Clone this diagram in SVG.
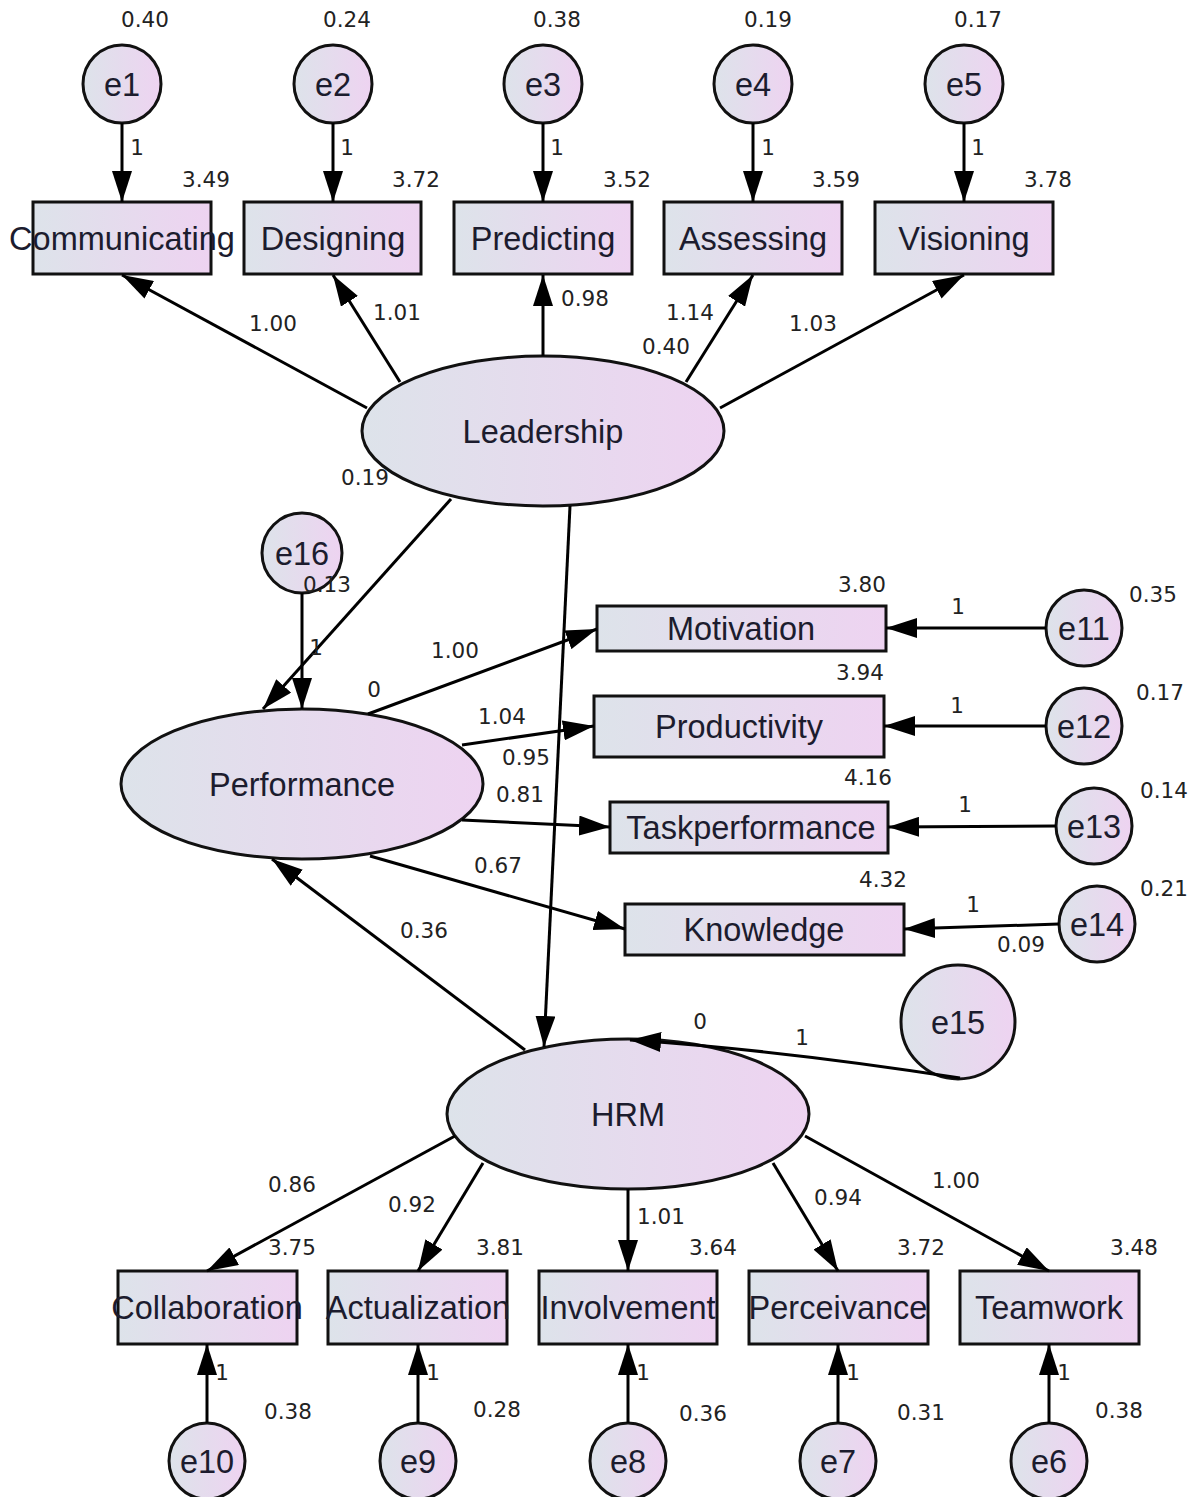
<svg xmlns="http://www.w3.org/2000/svg" width="1194" height="1497" viewBox="0 0 1194 1497">
<defs>
<linearGradient id="g" x1="0" y1="0" x2="1" y2="0">
<stop offset="0" stop-color="#dde3ea"/>
<stop offset="1" stop-color="#eed3f1"/>
</linearGradient>
<marker id="ah" markerUnits="userSpaceOnUse" markerWidth="32" markerHeight="20" refX="31" refY="10" orient="auto">
<path d="M0,0 L31,10 L0,20 z" fill="#000"/>
</marker>
</defs>
<style>
.n{fill:url(#g);stroke:#111;stroke-width:3}
.t{font-family:"Liberation Sans",Arial,sans-serif;font-size:32.5px;fill:#1c1c2e;text-anchor:middle}
.v{font-family:"DejaVu Sans",sans-serif;font-size:21.5px;fill:#222;text-anchor:middle}
.c{stroke:#000;stroke-width:3;fill:none;marker-end:url(#ah)}
</style>
<rect width="1194" height="1497" fill="#fff"/>

<g id="e1"><circle class="n" cx="122" cy="84" r="39"/><text class="t" x="122" y="96">e1</text><text class="v" x="145" y="27">0.40</text></g>
<g id="e2"><circle class="n" cx="333" cy="84" r="39"/><text class="t" x="333" y="96">e2</text><text class="v" x="347" y="27">0.24</text></g>
<g id="e3"><circle class="n" cx="543" cy="84" r="39"/><text class="t" x="543" y="96">e3</text><text class="v" x="557" y="27">0.38</text></g>
<g id="e4"><circle class="n" cx="753" cy="84" r="39"/><text class="t" x="753" y="96">e4</text><text class="v" x="768" y="27">0.19</text></g>
<g id="e5"><circle class="n" cx="964" cy="84" r="39"/><text class="t" x="964" y="96">e5</text><text class="v" x="978" y="27">0.17</text></g>

<g id="communicating"><rect class="n" x="33" y="202" width="178" height="72"/><text class="t" x="122" y="250">Communicating</text><text class="v" x="206" y="187">3.49</text></g>
<g id="designing"><rect class="n" x="244" y="202" width="177" height="72"/><text class="t" x="333" y="250">Designing</text><text class="v" x="416" y="187">3.72</text></g>
<g id="predicting"><rect class="n" x="454" y="202" width="178" height="72"/><text class="t" x="543" y="250">Predicting</text><text class="v" x="627" y="187">3.52</text></g>
<g id="assessing"><rect class="n" x="664" y="202" width="178" height="72"/><text class="t" x="753" y="250">Assessing</text><text class="v" x="836" y="187">3.59</text></g>
<g id="visioning"><rect class="n" x="875" y="202" width="178" height="72"/><text class="t" x="964" y="250">Visioning</text><text class="v" x="1048" y="187">3.78</text></g>

<g id="leadership"><ellipse class="n" cx="543" cy="431" rx="181" ry="75"/><text class="t" x="543" y="443">Leadership</text></g>

<g id="e16"><circle class="n" cx="302" cy="553" r="40"/><text class="t" x="302" y="565">e16</text><text class="v" x="327" y="592">0.13</text></g>

<g id="performance"><ellipse class="n" cx="302" cy="784" rx="181" ry="75"/><text class="t" x="302" y="796">Performance</text></g>

<g id="motivation"><rect class="n" x="597" y="606" width="289" height="45"/><text class="t" x="741" y="640">Motivation</text><text class="v" x="862" y="592">3.80</text></g>
<g id="productivity"><rect class="n" x="594" y="696" width="290" height="61"/><text class="t" x="739" y="738">Productivity</text><text class="v" x="860" y="680">3.94</text></g>
<g id="taskperformance"><rect class="n" x="610" y="802" width="278" height="51"/><text class="t" x="751" y="839">Taskperformance</text><text class="v" x="868" y="785">4.16</text></g>
<g id="knowledge"><rect class="n" x="625" y="904" width="279" height="51"/><text class="t" x="764" y="941">Knowledge</text><text class="v" x="883" y="887">4.32</text></g>

<g id="e11"><circle class="n" cx="1084" cy="628" r="38"/><text class="t" x="1084" y="640">e11</text><text class="v" x="1153" y="602">0.35</text></g>
<g id="e12"><circle class="n" cx="1084" cy="726" r="38"/><text class="t" x="1084" y="738">e12</text><text class="v" x="1160" y="700">0.17</text></g>
<g id="e13"><circle class="n" cx="1094" cy="826" r="38"/><text class="t" x="1094" y="838">e13</text><text class="v" x="1164" y="798">0.14</text></g>
<g id="e14"><circle class="n" cx="1097" cy="924" r="38"/><text class="t" x="1097" y="936">e14</text><text class="v" x="1164" y="896">0.21</text></g>

<g id="e15"><circle class="n" cx="958" cy="1022" r="57"/><text class="t" x="958" y="1034">e15</text></g>

<g id="hrm"><ellipse class="n" cx="628" cy="1114" rx="181" ry="75"/><text class="t" x="628" y="1126">HRM</text></g>

<g id="collaboration"><rect class="n" x="118" y="1271" width="179" height="73"/><text class="t" x="207" y="1319">Collaboration</text><text class="v" x="292" y="1255">3.75</text></g>
<g id="actualization"><rect class="n" x="328" y="1271" width="179" height="73"/><text class="t" x="418" y="1319">Actualization</text><text class="v" x="500" y="1255">3.81</text></g>
<g id="involvement"><rect class="n" x="539" y="1271" width="178" height="73"/><text class="t" x="628" y="1319">Involvement</text><text class="v" x="713" y="1255">3.64</text></g>
<g id="perceivance"><rect class="n" x="749" y="1271" width="179" height="73"/><text class="t" x="838" y="1319">Perceivance</text><text class="v" x="921" y="1255">3.72</text></g>
<g id="teamwork"><rect class="n" x="960" y="1271" width="179" height="73"/><text class="t" x="1049" y="1319">Teamwork</text><text class="v" x="1134" y="1255">3.48</text></g>

<g id="e10"><circle class="n" cx="207" cy="1461" r="38"/><text class="t" x="207" y="1473">e10</text><text class="v" x="288" y="1419">0.38</text></g>
<g id="e9"><circle class="n" cx="418" cy="1461" r="38"/><text class="t" x="418" y="1473">e9</text><text class="v" x="497" y="1417">0.28</text></g>
<g id="e8"><circle class="n" cx="628" cy="1461" r="38"/><text class="t" x="628" y="1473">e8</text><text class="v" x="703" y="1421">0.36</text></g>
<g id="e7"><circle class="n" cx="838" cy="1461" r="38"/><text class="t" x="838" y="1473">e7</text><text class="v" x="921" y="1420">0.31</text></g>
<g id="e6"><circle class="n" cx="1049" cy="1461" r="38"/><text class="t" x="1049" y="1473">e6</text><text class="v" x="1119" y="1418">0.38</text></g>

<g id="connectors">
<line class="c" x1="122" y1="123" x2="122" y2="202"/>
<line class="c" x1="333" y1="123" x2="333" y2="202"/>
<line class="c" x1="543" y1="123" x2="543" y2="202"/>
<line class="c" x1="753" y1="123" x2="753" y2="202"/>
<line class="c" x1="964" y1="123" x2="964" y2="202"/>
<line class="c" x1="367" y1="408" x2="122" y2="275"/>
<line class="c" x1="400" y1="382" x2="333" y2="275"/>
<line class="c" x1="543" y1="356" x2="543" y2="275"/>
<line class="c" x1="686" y1="382" x2="753" y2="275"/>
<line class="c" x1="720" y1="408" x2="964" y2="275"/>
<line class="c" x1="451" y1="499" x2="263" y2="709"/>
<line class="c" x1="302" y1="593" x2="302" y2="709"/>
<line class="c" x1="570" y1="506" x2="544" y2="1047"/>
<line class="c" x1="368" y1="714" x2="597" y2="629"/>
<line class="c" x1="462" y1="745" x2="594" y2="726"/>
<line class="c" x1="462" y1="820" x2="610" y2="827"/>
<line class="c" x1="370" y1="856" x2="625" y2="929"/>
<line class="c" x1="1046" y1="628" x2="886" y2="628"/>
<line class="c" x1="1046" y1="726" x2="884" y2="726"/>
<line class="c" x1="1056" y1="826" x2="888" y2="827"/>
<line class="c" x1="1059" y1="924" x2="904" y2="929"/>
<line class="c" x1="525" y1="1050" x2="272" y2="859"/>
<path class="c" d="M960,1078 Q780,1050 630,1040"/>
<line class="c" x1="455" y1="1136" x2="207" y2="1271"/>
<line class="c" x1="483" y1="1163" x2="418" y2="1271"/>
<line class="c" x1="628" y1="1189" x2="628" y2="1271"/>
<line class="c" x1="773" y1="1163" x2="838" y2="1271"/>
<line class="c" x1="805" y1="1136" x2="1049" y2="1271"/>
<line class="c" x1="207" y1="1423" x2="207" y2="1344"/>
<line class="c" x1="418" y1="1423" x2="418" y2="1344"/>
<line class="c" x1="628" y1="1423" x2="628" y2="1344"/>
<line class="c" x1="838" y1="1423" x2="838" y2="1344"/>
<line class="c" x1="1049" y1="1423" x2="1049" y2="1344"/>
</g>

<g id="edge-labels">
<text class="v" x="137" y="155">1</text>
<text class="v" x="347" y="155">1</text>
<text class="v" x="557" y="155">1</text>
<text class="v" x="768" y="155">1</text>
<text class="v" x="978" y="155">1</text>
<text class="v" x="273" y="331">1.00</text>
<text class="v" x="397" y="320">1.01</text>
<text class="v" x="585" y="306">0.98</text>
<text class="v" x="690" y="320">1.14</text>
<text class="v" x="666" y="354">0.40</text>
<text class="v" x="813" y="331">1.03</text>
<text class="v" x="365" y="485">0.19</text>
<text class="v" x="316" y="655">1</text>
<text class="v" x="455" y="658">1.00</text>
<text class="v" x="374" y="697">0</text>
<text class="v" x="502" y="724">1.04</text>
<text class="v" x="526" y="765">0.95</text>
<text class="v" x="520" y="802">0.81</text>
<text class="v" x="498" y="873">0.67</text>
<text class="v" x="958" y="614">1</text>
<text class="v" x="957" y="713">1</text>
<text class="v" x="965" y="812">1</text>
<text class="v" x="973" y="912">1</text>
<text class="v" x="1021" y="952">0.09</text>
<text class="v" x="424" y="938">0.36</text>
<text class="v" x="700" y="1029">0</text>
<text class="v" x="802" y="1045">1</text>
<text class="v" x="292" y="1192">0.86</text>
<text class="v" x="412" y="1212">0.92</text>
<text class="v" x="661" y="1224">1.01</text>
<text class="v" x="838" y="1205">0.94</text>
<text class="v" x="956" y="1188">1.00</text>
<text class="v" x="222" y="1380">1</text>
<text class="v" x="433" y="1380">1</text>
<text class="v" x="643" y="1380">1</text>
<text class="v" x="853" y="1380">1</text>
<text class="v" x="1064" y="1380">1</text>
</g>
</svg>
